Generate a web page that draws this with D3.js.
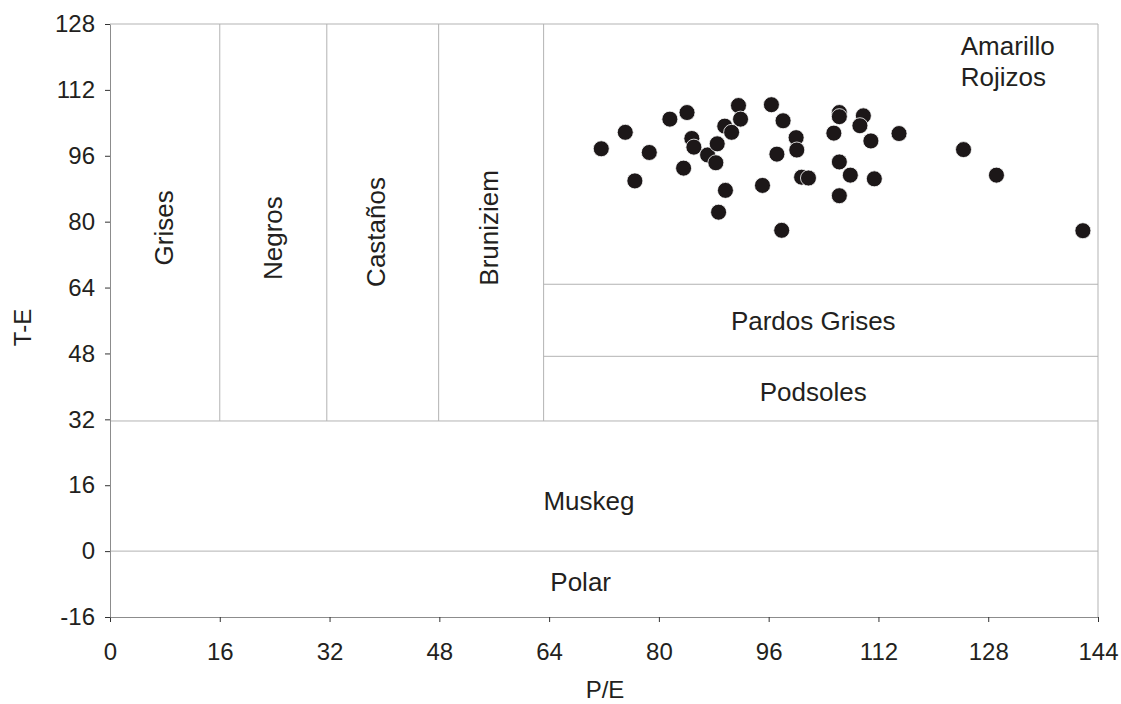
<!DOCTYPE html>
<html>
<head>
<meta charset="utf-8">
<script src="https://cdn.jsdelivr.net/npm/d3@7"></script>
<style>
  body { margin: 0; background: #fff; }
  text { font-family: "Liberation Sans", Arial, sans-serif; fill: #231f20; }
</style>
</head>
<body>
<div id="chart"></div>
<script>
// P/E and T-E of the sampled sites
const peValues = [71.6, 75.1, 78.6, 76.5, 81.6, 84.1, 84.8, 85.1, 83.6, 87.1,
                  88.5, 88.3, 89.6, 90.6, 91.6, 91.9, 89.7, 88.7, 95.1, 96.4,
                  98.1, 97.2, 100.0, 100.1, 100.8, 101.8, 97.9, 106.3, 106.3, 109.8,
                  109.3, 105.5, 110.9, 115.0, 106.3, 107.9, 111.4, 106.3, 124.4, 129.2,
                  141.8];
const teValues = [97.7, 101.7, 96.8, 89.9, 104.9, 106.5, 100.2, 98.1, 93.0, 96.2,
                  98.9, 94.3, 103.2, 101.7, 108.2, 104.9, 87.6, 82.3, 88.8, 108.4,
                  104.5, 96.4, 100.4, 97.4, 90.8, 90.6, 77.9, 106.5, 105.5, 105.7,
                  103.3, 101.5, 99.6, 101.4, 94.5, 91.3, 90.4, 86.3, 97.5, 91.3,
                  77.8];

// zone boundaries
const humidLimits = [16, 31.6, 47.9, 63.2];   // vertical lines (P/E)
const fullLimits = [31.6, 0];                 // horizontal lines across chart (T-E)
const dryLimits = [47.3, 64.8];               // horizontal lines right of last P/E limit

const xTicks = [0, 16, 32, 48, 64, 80, 96, 112, 128, 144];
const yTicks = [-16, 0, 16, 32, 48, 64, 80, 96, 112, 128];

const verticalZones = ["Grises", "Negros", "Castaños", "Bruniziem"];
const flatZones = ["Pardos Grises", "Podsoles", "Muskeg", "Polar"];

const W = 1121, H = 704;
const m = {top: 24, right: 23, bottom: 87, left: 110};
const w = W - m.left - m.right;
const h = H - m.top - m.bottom;

const svg = d3.select("#chart").append("svg")
    .attr("width", W).attr("height", H);
const g = svg.append("g").attr("transform", `translate(${m.left},${m.top})`);

const x = d3.scaleLinear().domain([0, 144]).range([0, w]);
const y = d3.scaleLinear().domain([-16, 128]).range([h, 0]);

const gridColor = "#b3b3b3";

// frame (top and right)
g.append("line").attr("x1", 0).attr("x2", w).attr("y1", 0).attr("y2", 0)
    .attr("stroke", gridColor);
g.append("line").attr("x1", w).attr("x2", w).attr("y1", 0).attr("y2", h)
    .attr("stroke", gridColor);

// zone lines
g.selectAll(".vline").data(humidLimits).enter().append("line")
    .attr("x1", d => x(d)).attr("x2", d => x(d))
    .attr("y1", y(128)).attr("y2", y(fullLimits[0]))
    .attr("stroke", gridColor);
g.selectAll(".hfull").data(fullLimits).enter().append("line")
    .attr("x1", 0).attr("x2", w)
    .attr("y1", d => y(d)).attr("y2", d => y(d))
    .attr("stroke", gridColor);
g.selectAll(".hdry").data(dryLimits).enter().append("line")
    .attr("x1", x(humidLimits[3])).attr("x2", w)
    .attr("y1", d => y(d)).attr("y2", d => y(d))
    .attr("stroke", gridColor);

// axes (plain hyphen for negatives)
const fmt = d => String(d);
const xAxis = g.append("g").attr("transform", `translate(0,${h})`)
    .call(d3.axisBottom(x).tickValues(xTicks).tickFormat(fmt)
        .tickSize(5).tickSizeOuter(0).tickPadding(21));
const yAxis = g.append("g")
    .call(d3.axisLeft(y).tickValues(yTicks).tickFormat(fmt)
        .tickSize(5).tickSizeOuter(0).tickPadding(10));
[xAxis, yAxis].forEach(a => {
    a.select(".domain").attr("stroke", "#8c8c8c");
    a.selectAll(".tick line").attr("stroke", "#333");
    a.selectAll(".tick text").attr("font-size", 24).attr("fill", "#231f20")
        .style("font-family", "'Liberation Sans', Arial, sans-serif");
});

// rotated zone labels: [baseline P/E, centre T-E]
const vPos = [[9.2, 78.5], [25.1, 76.0], [40.1, 77.5], [56.6, 78.5]];
g.selectAll(".vlab").data(verticalZones).enter().append("text")
    .attr("transform", (d, i) => `translate(${x(vPos[i][0])},${y(vPos[i][1])}) rotate(-90)`)
    .attr("text-anchor", "middle")
    .attr("font-size", 26)
    .text(d => d);

// horizontal zone labels: [centre P/E, baseline T-E]
const hPos = [[102.5, 53.7], [102.5, 36.5], [69.8, 10.0], [68.6, -9.7]];
g.selectAll(".hlab").data(flatZones).enter().append("text")
    .attr("x", (d, i) => x(hPos[i][0]))
    .attr("y", (d, i) => y(hPos[i][1]))
    .attr("text-anchor", "middle")
    .attr("font-size", 26)
    .text(d => d);

const amar = g.append("text").attr("x", x(124)).attr("y", y(120.4)).attr("font-size", 26);
amar.append("tspan").attr("x", x(124)).text("Amarillo");
amar.append("tspan").attr("x", x(124)).attr("dy", 31).text("Rojizos");

// points
g.selectAll("circle").data(peValues).enter().append("circle")
    .attr("cx", d => x(d))
    .attr("cy", (d, i) => y(teValues[i]))
    .attr("r", 8)
    .attr("fill", "#1c1718")
    .attr("stroke", "#fff")
    .attr("stroke-width", 0.8);

// axis titles
svg.append("text")
    .attr("transform", `translate(31,${m.top + y(54.3)}) rotate(-90)`)
    .attr("text-anchor", "middle")
    .attr("font-size", 24)
    .text("T-E");
svg.append("text")
    .attr("x", 605).attr("y", 698)
    .attr("text-anchor", "middle")
    .attr("font-size", 24)
    .text("P/E");
</script>
</body>
</html>
